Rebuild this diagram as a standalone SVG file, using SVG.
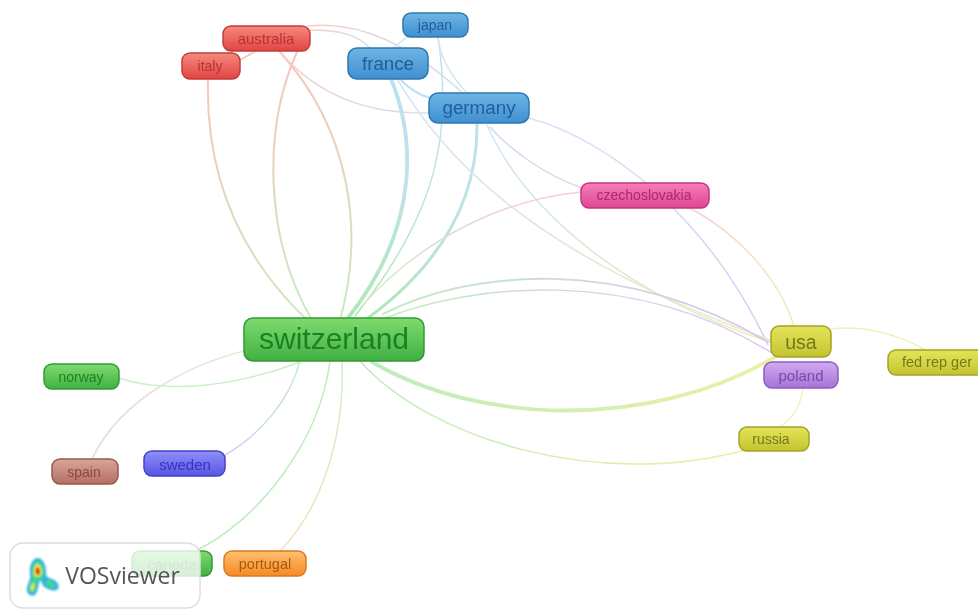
<svg xmlns="http://www.w3.org/2000/svg" width="978" height="609" viewBox="0 0 978 609">
<defs>
<linearGradient id="gr" x1="0" y1="0" x2="0" y2="1"><stop offset="0" stop-color="#f5897f"/><stop offset="1" stop-color="#e24543"/></linearGradient>
<linearGradient id="gb" x1="0" y1="0" x2="0" y2="1"><stop offset="0" stop-color="#6fb5e6"/><stop offset="1" stop-color="#3f8fcf"/></linearGradient>
<linearGradient id="gg" x1="0" y1="0" x2="0" y2="1"><stop offset="0" stop-color="#7edb6e"/><stop offset="1" stop-color="#41b043"/></linearGradient>
<linearGradient id="gy" x1="0" y1="0" x2="0" y2="1"><stop offset="0" stop-color="#e4e45a"/><stop offset="1" stop-color="#c4c430"/></linearGradient>
<linearGradient id="gp" x1="0" y1="0" x2="0" y2="1"><stop offset="0" stop-color="#d3aaf0"/><stop offset="1" stop-color="#a873d6"/></linearGradient>
<linearGradient id="gm" x1="0" y1="0" x2="0" y2="1"><stop offset="0" stop-color="#f57fb8"/><stop offset="1" stop-color="#df4592"/></linearGradient>
<linearGradient id="gn" x1="0" y1="0" x2="0" y2="1"><stop offset="0" stop-color="#d9a59a"/><stop offset="1" stop-color="#b36f62"/></linearGradient>
<linearGradient id="gv" x1="0" y1="0" x2="0" y2="1"><stop offset="0" stop-color="#8f8ffa"/><stop offset="1" stop-color="#5656e4"/></linearGradient>
<linearGradient id="go" x1="0" y1="0" x2="0" y2="1"><stop offset="0" stop-color="#ffc070"/><stop offset="1" stop-color="#f58a22"/></linearGradient>
<linearGradient id="lbg" x1="0" y1="0" x2="0" y2="1"><stop offset="0" stop-color="#bcdff3"/><stop offset="0.45" stop-color="#bfe3e6"/><stop offset="1" stop-color="#aee8b6"/></linearGradient>
<linearGradient id="lrg" x1="0" y1="0" x2="0" y2="1"><stop offset="0" stop-color="#f8c4ba"/><stop offset="1" stop-color="#c8ebc0"/></linearGradient>
<linearGradient id="lgy" x1="0" y1="0" x2="1" y2="0"><stop offset="0" stop-color="#bfecbc"/><stop offset="1" stop-color="#ecf0a6"/></linearGradient>
<linearGradient id="lby" x1="0" y1="0" x2="1" y2="1"><stop offset="0" stop-color="#cfe6f5"/><stop offset="1" stop-color="#eeeabc"/></linearGradient>
<linearGradient id="lbp" x1="0" y1="0" x2="1" y2="1"><stop offset="0" stop-color="#d2e4f6"/><stop offset="1" stop-color="#dccdf4"/></linearGradient>
<linearGradient id="lgp" x1="0" y1="0" x2="1" y2="0"><stop offset="0" stop-color="#c6ebc6"/><stop offset="1" stop-color="#d8c6f2"/></linearGradient>
<linearGradient id="lmg" x1="1" y1="0" x2="0" y2="1"><stop offset="0" stop-color="#f7cdda"/><stop offset="1" stop-color="#cdeecb"/></linearGradient>
<linearGradient id="lmy" x1="0" y1="0" x2="1" y2="1"><stop offset="0" stop-color="#f8d0d4"/><stop offset="1" stop-color="#f0f0b4"/></linearGradient>
<linearGradient id="lmp" x1="0" y1="0" x2="1" y2="1"><stop offset="0" stop-color="#d8d6f2"/><stop offset="1" stop-color="#e6cfe6"/></linearGradient>
<linearGradient id="lrb" x1="0" y1="0" x2="1" y2="0"><stop offset="0" stop-color="#f8cdc8"/><stop offset="1" stop-color="#cfe0f2"/></linearGradient>
<linearGradient id="lsp" x1="1" y1="0" x2="0" y2="1"><stop offset="0" stop-color="#dcf0d4"/><stop offset="1" stop-color="#ead8d4"/></linearGradient>
<linearGradient id="lsw" x1="1" y1="0" x2="0" y2="1"><stop offset="0" stop-color="#c8eec8"/><stop offset="1" stop-color="#ccccf6"/></linearGradient>
<linearGradient id="lpo" x1="1" y1="0" x2="0" y2="1"><stop offset="0" stop-color="#cdefc8"/><stop offset="1" stop-color="#fbdfbc"/></linearGradient>
<filter id="soft" x="-2%" y="-2%" width="104%" height="104%"><feGaussianBlur stdDeviation="0.5"/></filter>
<filter id="blob" x="-20%" y="-20%" width="140%" height="140%"><feGaussianBlur stdDeviation="1"/></filter>
</defs>
<style>
text{font-family:"Liberation Sans",Arial,sans-serif;text-anchor:middle;dominant-baseline:central}
#edges path{fill:none;stroke-width:1.5;stroke-linecap:round}
#edges path.w2{stroke-width:2}
#edges path.w3{stroke-width:3}
#edges path.w4{stroke-width:3.8}
.n{stroke-width:1.5}
.r{fill:url(#gr);stroke:#c23c3a}.rt{fill:#b83434}
.b{fill:url(#gb);stroke:#2f78b0}.bt{fill:#1f6098}
.g{fill:url(#gg);stroke:#329a36}.gt{fill:#1f8024}
.y{fill:url(#gy);stroke:#a3a326}.yt{fill:#78781e}
.p{fill:url(#gp);stroke:#8a5ebd}.pt{fill:#7a48a8}
.m{fill:url(#gm);stroke:#c43580}.mt{fill:#ab2a6c}
.s{fill:url(#gn);stroke:#99594d}.st{fill:#8a4a40}
.v{fill:url(#gv);stroke:#4343c4}.vt{fill:#3434c4}
.o{fill:url(#go);stroke:#d97a20}.ot{fill:#a85a10}
</style>
<rect width="978" height="609" fill="#ffffff"/>
<g filter="url(#soft)">
<g id="edges">
<path class="w2" d="M208 79C205 190 250 270 318 330" stroke="url(#lrg)"/>
<path class="w2" d="M297 52C262 130 265 240 312 320" stroke="url(#lrg)"/>
<path class="w2" d="M280 52C350 130 365 230 340 320" stroke="url(#lrg)"/>
<path d="M240 60L256 51" stroke="#f8c4ba"/>
<path d="M310 30C340 30 358 35 370 48" stroke="url(#lrb)"/>
<path d="M280 52C320 98 370 114 430 113" stroke="url(#lrb)"/>
<path d="M308 26C360 20 410 45 465 95" stroke="url(#lrb)"/>
<path class="w4" d="M391 79C412 130 425 220 348 318" stroke="url(#lbg)"/>
<path class="w3" d="M477 123C478 200 440 265 368 318" stroke="url(#lbg)"/>
<path d="M438 37C452 130 440 210 355 316" stroke="url(#lbg)"/>
<path d="M438 37C440 60 455 80 467 93" stroke="#d0e6f4"/>
<path d="M407 37L393 48" stroke="#cfe6f5"/>
<path class="w2" d="M400 79C410 90 420 95 430 98" stroke="#bcdff3"/>
<path d="M529 118C610 140 710 220 768 345" stroke="url(#lbp)"/>
<path d="M490 127C510 150 545 175 582 188" stroke="url(#lmp)"/>
<path d="M397 79C440 150 520 250 770 340" stroke="url(#lby)"/>
<path d="M487 125C520 200 610 290 770 342" stroke="url(#lby)"/>
<path class="w4" d="M372 362C480 425 650 430 775 357" stroke="url(#lgy)"/>
<path class="w2" d="M383 314C470 270 620 255 768 342" stroke="url(#lgp)"/>
<path d="M385 318C470 285 630 265 772 353" stroke="url(#lgp)"/>
<path d="M360 308C420 240 500 200 581 192" stroke="url(#lmg)"/>
<path d="M690 208C740 235 780 280 794 326" stroke="url(#lmy)"/>
<path d="M831 329C865 325 900 335 925 350" stroke="#edf2b4"/>
<path d="M803 388C800 410 790 420 780 427" stroke="#f0f2bc"/>
<path d="M360 361C430 440 600 490 745 450" stroke="url(#lgy)"/>
<path d="M300 362C240 385 170 395 119 378" stroke="#cdefc8"/>
<path d="M270 345C190 360 120 400 92 459" stroke="url(#lsp)"/>
<path d="M300 361C290 400 260 435 225 455" stroke="url(#lsw)"/>
<path d="M330 361C320 440 260 520 195 551" stroke="#bfecbc"/>
<path d="M342 361C345 440 320 510 280 551" stroke="url(#lpo)"/>
</g>
<g id="n-australia"><rect class="n r" x="223" y="26" width="87" height="25" rx="8"/><text class="rt" x="266" y="38.5" font-size="15">australia</text></g>
<g id="n-italy"><rect class="n r" x="182" y="53" width="58" height="26" rx="8"/><text class="rt" x="210" y="66" font-size="14">italy</text></g>
<g id="n-japan"><rect class="n b" x="403" y="13" width="65" height="24" rx="8"/><text class="bt" x="435" y="25" font-size="14">japan</text></g>
<g id="n-france"><rect class="n b" x="348" y="48" width="80" height="31" rx="9"/><text class="bt" x="388" y="63" font-size="18.7">france</text></g>
<g id="n-germany"><rect class="n b" x="429" y="93" width="100" height="30" rx="9"/><text class="bt" x="479" y="107.500" font-size="18.8">germany</text></g>
<g id="n-czechoslovakia"><rect class="n m" x="581" y="183" width="128" height="25" rx="8"/><text class="mt" x="644" y="195" font-size="14">czechoslovakia</text></g>
<g id="n-switzerland"><rect class="n g" x="244" y="318" width="180" height="43" rx="9"/><text class="gt" x="334" y="338" font-size="30">switzerland</text></g>
<g id="n-norway"><rect class="n g" x="44" y="364" width="75" height="25" rx="8"/><text class="gt" x="81" y="377" font-size="14">norway</text></g>
<g id="n-spain"><rect class="n s" x="52" y="459" width="66" height="25" rx="8"/><text class="st" x="84" y="472" font-size="14">spain</text></g>
<g id="n-sweden"><rect class="n v" x="144" y="451" width="81" height="25" rx="8"/><text class="vt" x="185" y="464" font-size="15">sweden</text></g>
<g id="n-canada"><rect class="n g" x="132" y="551" width="80" height="25" rx="8"/><text class="gt" x="172" y="564" font-size="15">canada</text></g>
<g id="n-portugal"><rect class="n o" x="224" y="551" width="82" height="25" rx="8"/><text class="ot" x="265" y="564" font-size="14.5">portugal</text></g>
<g id="n-fedrepger"><rect class="n y" x="888" y="350" width="100" height="25" rx="8"/><text class="yt" x="937" y="362" font-size="14.5">fed rep ger</text></g>
<g id="n-poland"><rect class="n p" x="764" y="362" width="74" height="26" rx="8"/><text class="pt" x="801" y="375" font-size="15">poland</text></g>
<g id="n-usa"><rect class="n y" x="771" y="326" width="60" height="31" rx="8"/><text class="yt" x="801" y="341.500" font-size="19.500">usa</text></g>
<g id="n-russia"><rect class="n y" x="739" y="427" width="70" height="24" rx="8"/><text class="yt" x="771" y="439" font-size="14">russia</text></g>
<g id="logo">
<rect x="10" y="543" width="190" height="65" rx="13" fill="#ffffff" fill-opacity="0.8" stroke="#dedede" stroke-width="1.5"/>
<g filter="url(#blob)">
<path d="M37 558C43 558 46 565 46 572C46 577 48 578 52 579C57 581 60 585 58 589C55 592 50 590 46 588C42 586 42 582 40 580C38 584 39 590 35 595C31 597 26 594 27 588C28 582 31 580 30 574C29 566 32 559 37 558Z" fill="#35b0e0"/>
<path d="M37 561C42 561 44 567 44 573C44 579 40 581 37 579C37 584 36 591 33 593C29 593 29 588 30 584C33 580 33 576 32 572C32 566 34 562 37 561ZM47 580C51 581 56 584 56 587C54 589 47 587 45 583Z" fill="#3fd88a"/>
<path d="M37 564C41 565 42 569 42 573C41 577 36 578 34 575C33 570 34 566 37 564ZM33 583C35 583 35 589 32 591C30 590 30 586 33 583Z" fill="#e8e84a"/>
<path d="M37 567C40 568 41 572 39 575C36 576 34 570 37 567Z" fill="#d92020"/>
</g>
<text x="122.500" y="575" font-size="23" fill="#555555" style="font-family:'Open Sans','Liberation Sans',sans-serif">VOSviewer</text>
</g>
</g>
</svg>
